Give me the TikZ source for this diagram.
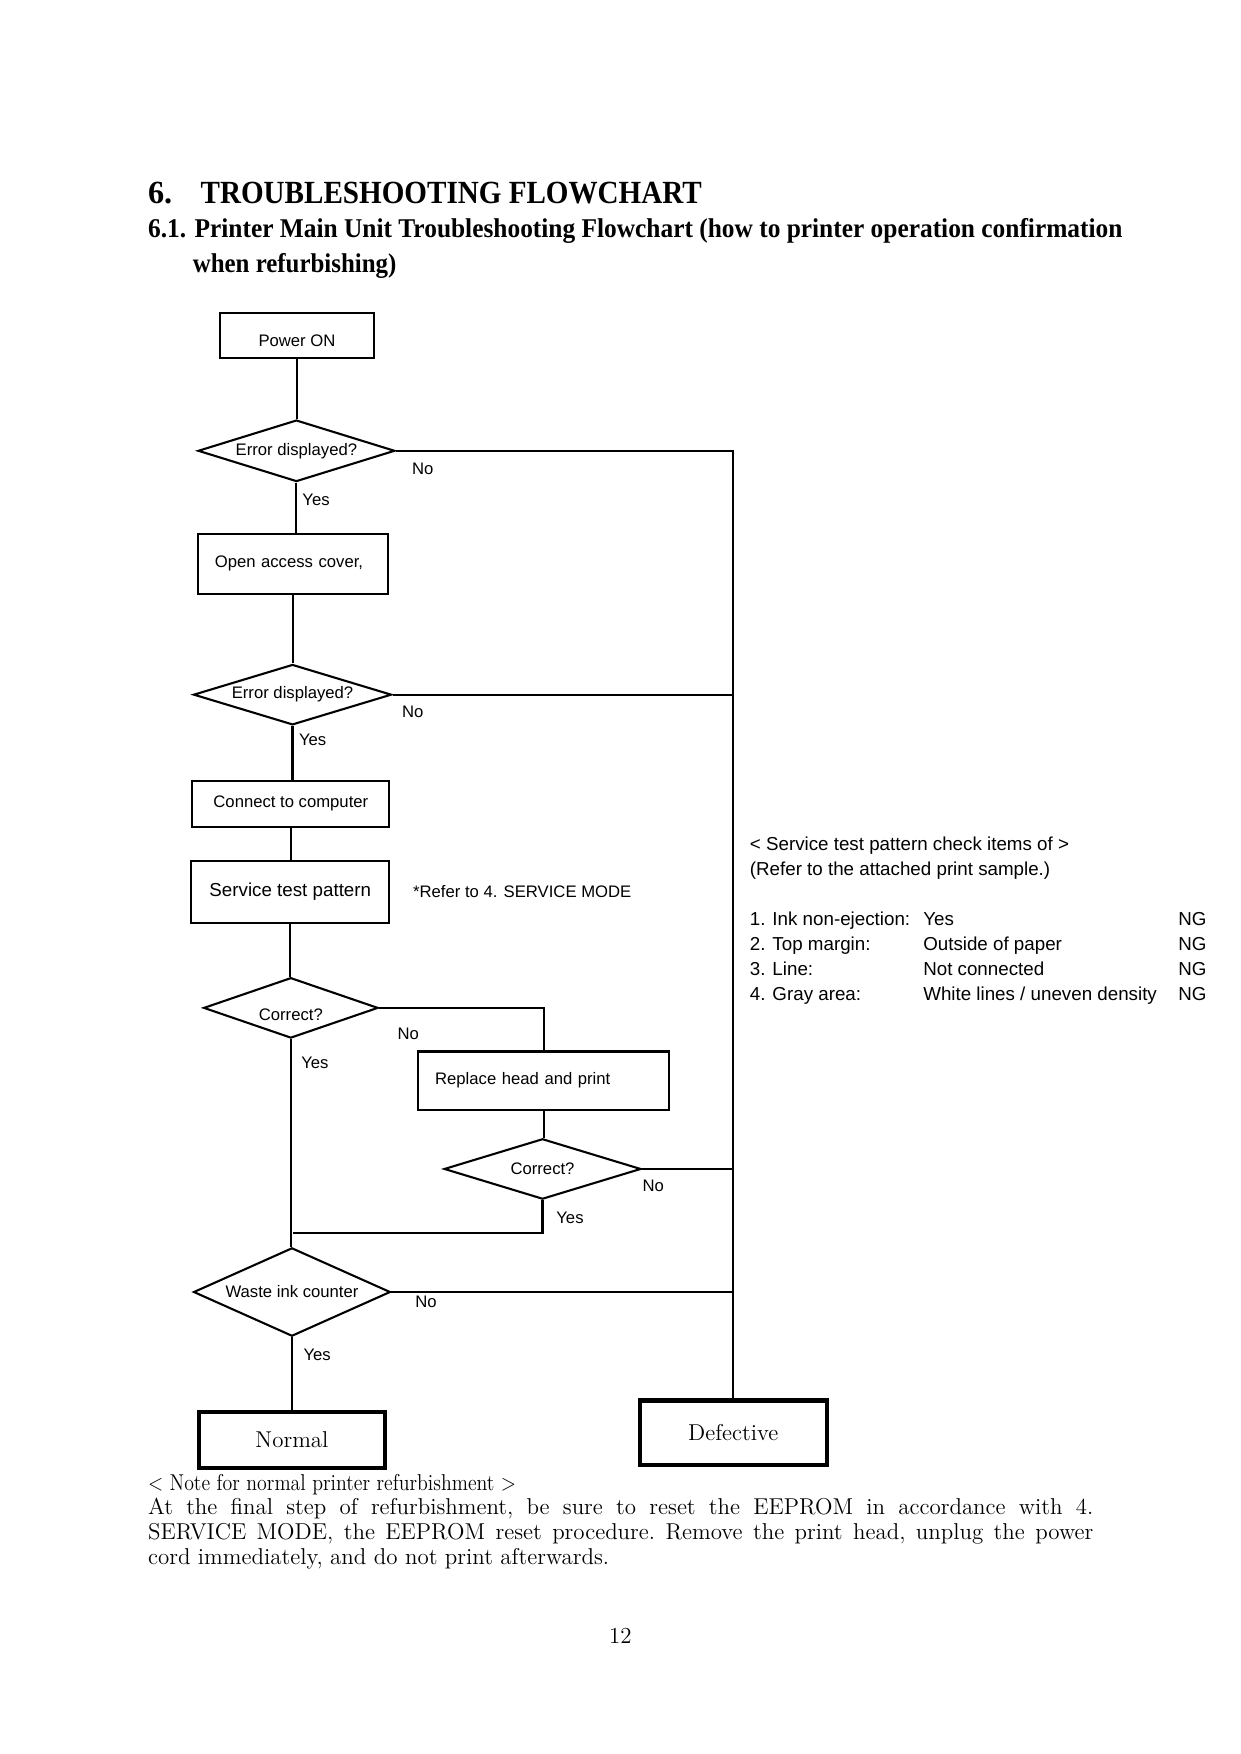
\documentclass[tikz,border=0pt]{standalone}
\usepackage{fontspec}
\usetikzlibrary{shapes.geometric}
\newfontfamily\arialfont{Liberation Sans}
\newfontfamily\timesfont{Liberation Serif}
\newlength{\pxu}
\setlength{\pxu}{0.5366pt}

\begin{document}
\begin{tikzpicture}[x=0.5366pt,y=0.5366pt,yscale=-1,xscale=1,
  every node/.style={inner sep=0pt},
  flowbox/.style={draw,line width=1pt,rectangle,font=\arialfont\fontsize{8}{9.6}\selectfont},
  decision/.style={draw,line width=1pt,diamond,aspect=3.2,font=\arialfont\fontsize{8}{9.6}\selectfont},
  endbox/.style={draw,line width=2pt,rectangle,font=\fontsize{11}{13}\selectfont},
  answer/.style={anchor=base west,font=\arialfont\fontsize{8}{9.6}\selectfont},
  flowline/.style={line width=1pt}]
\useasboundingbox (0,0) rectangle (1109,1568);

% Text Node
\node [anchor=base west,font=\timesfont\bfseries\fontsize{15.5}{18}\selectfont] (secno) at (132,182) {6.};
% Text Node
\node [anchor=base west,font=\timesfont\bfseries\fontsize{15.5}{18}\selectfont] (sectitle) at (179,182) {\resizebox{448\pxu}{\height}{TROUBLESHOOTING FLOWCHART}};
% Text Node
\node [anchor=base west,font=\timesfont\bfseries\fontsize{13}{16}\selectfont] (subtitlea) at (132,212) {\resizebox{871\pxu}{\height}{6.1. Printer Main Unit Troubleshooting Flowchart (how to printer operation confirmation}};
% Text Node
\node [anchor=base west,font=\timesfont\bfseries\fontsize{13}{16}\selectfont] (subtitleb) at (172,244) {\resizebox{182\pxu}{\height}{when refurbishing)}};

%Shape: Rectangle
\node [flowbox,minimum width=137\pxu,minimum height=40\pxu,text height=10pt,text depth=0pt] (power) at (265.5,300) {Power ON};
%Shape: Diamond
\node [decision,minimum width=176\pxu,minimum height=55\pxu] (errA) at (265,403) {Error displayed?};
%Shape: Rectangle
\node [flowbox,minimum width=170\pxu,minimum height=54\pxu,inner xsep=15\pxu,text width=140\pxu,align=left] (cover) at (262,504) {Open access cover,};
%Shape: Diamond
\node [decision,minimum width=177\pxu,minimum height=54\pxu] (errB) at (261.5,621) {Error displayed?};
%Shape: Rectangle
\node [flowbox,minimum width=176\pxu,minimum height=41\pxu] (connect) at (260,718.5) {Connect to computer};
%Shape: Rectangle
\node [flowbox,minimum width=177\pxu,minimum height=55\pxu,font=\arialfont\fontsize{9}{11}\selectfont] (pattern) at (259.5,797.5) {Service test pattern};
%Shape: Diamond
\node [decision,minimum width=156\pxu,minimum height=54\pxu,text height=12pt,text depth=0pt] (okA) at (260,901) {Correct?};
%Shape: Rectangle
\node [flowbox,minimum width=224\pxu,minimum height=52\pxu,inner xsep=15\pxu,text width=194\pxu,align=left] (replace) at (486,966) {Replace head and print};
%Shape: Diamond
\node [decision,minimum width=176\pxu,minimum height=54\pxu] (okB) at (485,1045) {Correct?};
%Shape: Diamond
\node [decision,minimum width=176\pxu,minimum height=79\pxu] (waste) at (261,1155) {Waste ink counter};
%Shape: Rectangle
\node [endbox,minimum width=166\pxu,minimum height=50\pxu] (normal) at (261,1287) {Normal};
%Shape: Rectangle
\node [endbox,minimum width=167\pxu,minimum height=58\pxu] (defective) at (655.5,1281) {Defective};
\coordinate (rejoin) at (262,1102);

%Straight Lines
\draw [flowline] (power.south) -- (power.south |- errA.north);
\draw [flowline] (errA.east) -- (errA.east -| defective.north) -- (defective.north);
\draw [flowline] (errA.south) -- (errA.south |- cover.north);
\draw [flowline] (cover.south) -- (cover.south |- errB.north);
\draw [flowline] (errB.east) -- (errB.east -| defective.north);
\draw [flowline] (errB.south) -- (errB.south |- connect.north);
\draw [flowline] (connect.south) -- (connect.south |- pattern.north);
\draw [flowline] (pattern.south) -- (pattern.south |- okA.north);
\draw [flowline] (okA.east) -| (replace.north);
\draw [flowline] (replace.south) -- (replace.south |- okB.north);
\draw [flowline] (okB.east) -- (okB.east -| defective.north);
\draw [flowline] (okB.south) |- (rejoin);
\draw [flowline] (okA.south) -- (okA.south |- waste.north);
\draw [flowline] (waste.east) -- (waste.east -| defective.north);
\draw [flowline] (waste.south) -- (waste.south |- normal.north);

% Text Node
\node [answer] (noA) at (368,424) {No};
\node [answer] (yesA) at (270,452) {Yes};
\node [answer] (noB) at (359,641) {No};
\node [answer] (yesB) at (267,666) {Yes};
\node [answer] (noC) at (355,929) {No};
\node [answer] (yesC) at (269,955) {Yes};
\node [answer] (noD) at (574,1065) {No};
\node [answer] (yesD) at (497,1094) {Yes};
\node [answer] (noE) at (371,1169) {No};
\node [answer] (yesE) at (271,1216) {Yes};
% Text Node
\node [answer] (refer) at (369,802) {*Refer to 4. SERVICE MODE};
% Text Node
\node [anchor=base west,font=\arialfont\fontsize{9}{12}\selectfont] (checks) at (670,760) {%
\begin{tabular}[t]{@{}p{155\pxu}@{}p{228\pxu}@{}l@{}}
\multicolumn{3}{@{}l@{}}{< Service test pattern check items of >}\\
\multicolumn{3}{@{}l@{}}{(Refer to the attached print sample.)}\\
 & & \\
1. Ink non-ejection: & Yes & NG\\
2. Top margin: & Outside of paper & NG\\
3. Line: & Not connected & NG\\
4. Gray area: & White lines / uneven density & NG
\end{tabular}};

% Text Node
\node [anchor=base west,font=\fontsize{11}{12}\selectfont] (note) at (132,1332) {\resizebox{329\pxu}{\height}{< Note for normal printer refurbishment >}};
% Text Node
\node [anchor=base west,font=\fontsize{11}{12}\selectfont] (notebody) at (132,1354) {\parbox[t]{845\pxu}{\frenchspacing At the final step of refurbishment, be sure to reset the EEPROM in accordance with 4.\linebreak SERVICE MODE, the EEPROM reset procedure. Remove the print head, unplug the power\linebreak cord immediately, and do not print afterwards.}};
% Text Node
\node [anchor=base,font=\fontsize{11}{12}\selectfont] (pageno) at (554.5,1469) {12};

\end{tikzpicture}
\end{document}
